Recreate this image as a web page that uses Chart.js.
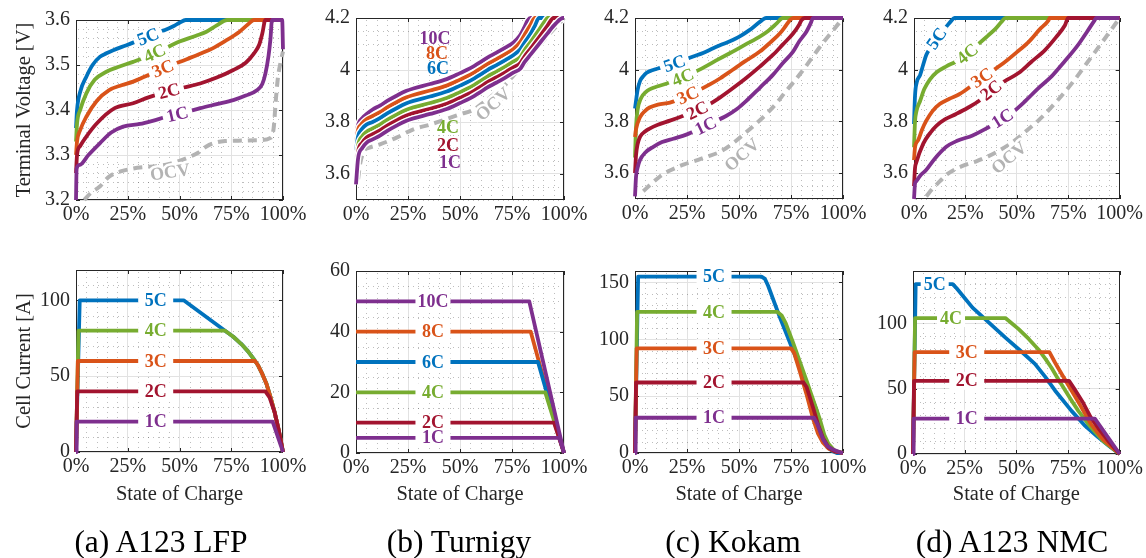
<!DOCTYPE html>
<html><head><meta charset="utf-8">
<script src="https://cdn.jsdelivr.net/npm/chart.js@4.4.0/dist/chart.umd.min.js"></script>
<style>
html,body{margin:0;padding:0;background:#fff;width:1146px;height:558px;overflow:hidden;position:relative}
canvas{position:absolute;left:0;top:0}
.cap{position:absolute;top:526px;font-family:'Liberation Serif','Times New Roman',serif;font-size:31.5px;line-height:31px;color:#000;white-space:nowrap;transform:translateX(-50%)}
</style></head><body>
<canvas id="ta" width="1146" height="558"></canvas>
<canvas id="tb" width="1146" height="558"></canvas>
<canvas id="tc" width="1146" height="558"></canvas>
<canvas id="td" width="1146" height="558"></canvas>
<canvas id="ba" width="1146" height="558"></canvas>
<canvas id="bb" width="1146" height="558"></canvas>
<canvas id="bc" width="1146" height="558"></canvas>
<canvas id="bd" width="1146" height="558"></canvas>
<div class="cap" style="left:161px">(a) A123 LFP</div>
<div class="cap" style="left:459px">(b) Turnigy</div>
<div class="cap" style="left:733px">(c) Kokam</div>
<div class="cap" style="left:1012px">(d) A123 NMC</div>
<script>
// ---------- tick labels ----------
const socTicks = [0, 25, 50, 75, 100];
const lfpVTicks = [3.2, 3.3, 3.4, 3.5, 3.6];
const hiVTicks = [3.6, 3.8, 4, 4.2];
const lfpITicks = [0, 50, 100];
const turITicks = [0, 20, 40, 60];
const kokITicks = [0, 50, 100, 150];
const nmcITicks = [0, 50, 100];

// ---------- A123 LFP : voltage [SOC %, V] ----------
const lfpV5C = [[0,3.36],[0.5,3.40],[2,3.44],[5,3.474],[8,3.50],[11.5,3.518],[14.7,3.526],[18,3.533],[24.4,3.544],[31,3.556],[36,3.565],[40.5,3.574],[43,3.578],[47,3.586],[50,3.594],[53,3.6],[100,3.6]];
const lfpV4C = [[0,3.33],[0.5,3.37],[2,3.40],[5,3.437],[9,3.467],[14.7,3.485],[20,3.495],[27.6,3.507],[35,3.52],[43,3.537],[50,3.552],[58,3.565],[63,3.574],[68,3.588],[73,3.6],[100,3.6]];
const lfpV3C = [[0,3.30],[0.5,3.33],[2,3.355],[5,3.385],[10,3.42],[16,3.444],[22,3.455],[27.6,3.463],[35,3.478],[42,3.492],[53.5,3.513],[60,3.525],[66,3.537],[72,3.553],[79,3.574],[83,3.59],[86,3.6],[100,3.6]];
const lfpV2C = [[0,3.26],[0.5,3.30],[2,3.32],[5,3.341],[10,3.37],[18.7,3.404],[27.6,3.415],[35,3.428],[43.8,3.441],[52,3.45],[60,3.459],[68,3.472],[76,3.489],[82,3.505],[86,3.526],[88.5,3.545],[90,3.57],[91.5,3.6],[100,3.6]];
const lfpV1C = [[0,3.20],[0.3,3.27],[1.8,3.278],[6,3.30],[11.5,3.326],[17,3.35],[22.8,3.363],[30.9,3.369],[37,3.376],[43.8,3.385],[52,3.394],[60,3.404],[68,3.413],[76,3.422],[82,3.432],[87.4,3.444],[90,3.458],[91.5,3.481],[93,3.52],[93.9,3.556],[94.7,3.6],[99.6,3.6],[100,3.535]];
const lfpVOCV = [[4,3.20],[7,3.215],[11.5,3.23],[16,3.252],[22,3.264],[27.6,3.27],[33,3.273],[39,3.275],[45,3.28],[50,3.287],[55,3.296],[59,3.305],[63,3.319],[67,3.327],[72,3.331],[80,3.332],[89,3.333],[94,3.338],[95.5,3.36],[96.5,3.42],[97.5,3.47],[99,3.51],[100,3.53]];

// ---------- Turnigy : voltage ----------
const turV10C = [[0,3.74],[1,3.79],[3,3.815],[5,3.83],[8,3.848],[11.5,3.863],[15,3.881],[19.5,3.901],[24,3.919],[27.6,3.929],[35.6,3.946],[43.6,3.965],[50,3.988],[55,4.007],[59.6,4.029],[63,4.047],[67.6,4.067],[72,4.087],[75.6,4.105],[78.8,4.132],[81,4.165],[82.5,4.19],[84,4.2],[100,4.2]];
const turV8C = [[0,3.72],[1,3.77],[3,3.795],[5,3.81],[8,3.823],[11.5,3.838],[15,3.856],[19.5,3.876],[24,3.894],[27.6,3.904],[35.6,3.921],[43.6,3.94],[50,3.963],[55,3.982],[59.6,4.004],[63,4.022],[67.6,4.042],[72,4.062],[75.6,4.08],[79,4.108],[81,4.135],[84,4.175],[86,4.2],[100,4.2]];
const turV6C = [[0,3.69],[1,3.745],[3,3.775],[5,3.79],[8,3.80],[11.5,3.815],[15,3.833],[19.5,3.853],[24,3.871],[27.6,3.881],[35.6,3.898],[43.6,3.917],[50,3.94],[55,3.959],[59.6,3.981],[63,3.999],[67.6,4.019],[72,4.039],[75.6,4.057],[79,4.08],[81,4.105],[84,4.14],[86,4.17],[88,4.2],[100,4.2]];
const turV4C = [[0,3.64],[1,3.71],[3,3.745],[5,3.762],[8,3.775],[11.5,3.79],[15,3.808],[19.5,3.828],[24,3.846],[27.6,3.856],[35.6,3.873],[43.6,3.892],[50,3.915],[55,3.934],[59.6,3.956],[63,3.974],[67.6,3.994],[72,4.014],[75.6,4.032],[79,4.05],[81,4.076],[84,4.108],[88,4.155],[91,4.19],[92,4.2],[100,4.2]];
const turV2C = [[0,3.60],[1,3.685],[3,3.72],[5,3.74],[8,3.753],[11.5,3.768],[15,3.786],[19.5,3.806],[24,3.824],[27.6,3.834],[35.6,3.851],[43.6,3.87],[50,3.893],[55,3.912],[59.6,3.934],[63,3.952],[67.6,3.972],[72,3.992],[75.6,4.01],[79,4.027],[81,4.052],[84,4.083],[88,4.125],[92,4.17],[95,4.2],[100,4.2]];
const turV1C = [[0,3.56],[1,3.66],[3,3.70],[5,3.72],[8,3.733],[11.5,3.748],[15,3.766],[19.5,3.786],[24,3.804],[27.6,3.814],[35.6,3.831],[43.6,3.85],[50,3.873],[55,3.892],[59.6,3.914],[63,3.932],[67.6,3.952],[72,3.972],[75.6,3.99],[79,4.005],[81,4.03],[84,4.06],[88,4.1],[92,4.14],[96,4.178],[99.5,4.2],[100,4.2]];
const turVOCV = [[1,3.58],[2,3.64],[4,3.69],[6,3.70],[11.5,3.714],[19.5,3.74],[27.6,3.772],[35.6,3.79],[43.6,3.812],[50,3.83],[56,3.845],[59.6,3.865],[63,3.885],[67.6,3.915],[72,3.945],[77,3.99],[80,4.012],[85,4.065],[91.7,4.128],[96,4.165],[100,4.2]];

// ---------- Kokam : voltage ----------
const kokV5C = [[0,3.85],[0.5,3.88],[1.2,3.92],[2.4,3.956],[4,3.975],[5.6,3.988],[9,4.0],[12,4.007],[18.4,4.022],[23,4.036],[28,4.051],[33,4.066],[37.6,4.083],[42,4.098],[47,4.115],[51,4.132],[55,4.153],[58,4.172],[61,4.191],[63,4.2],[100,4.2]];
const kokV4C = [[0,3.66],[0.5,3.78],[1.2,3.842],[3,3.892],[5,3.912],[7,3.924],[11,3.936],[15,3.946],[19,3.958],[23,3.971],[28,3.988],[34,4.013],[40,4.04],[47,4.07],[53,4.097],[60,4.128],[64,4.15],[68,4.178],[71,4.2],[100,4.2]];
const kokV3C = [[0,3.74],[0.5,3.77],[2.4,3.816],[5,3.842],[7,3.854],[11,3.865],[16.8,3.873],[21,3.885],[24.8,3.899],[30,3.918],[36,3.943],[41,3.967],[47,4.0],[53,4.033],[60,4.07],[65,4.105],[69.6,4.14],[72.5,4.17],[74.4,4.191],[76,4.2],[100,4.2]];
const kokV2C = [[0,3.60],[0.5,3.67],[1.2,3.71],[2.4,3.74],[5,3.762],[7,3.772],[11,3.787],[16.8,3.803],[22,3.818],[28,3.835],[34,3.858],[40.8,3.892],[47,3.928],[53.6,3.969],[60,4.012],[66.4,4.058],[71,4.097],[76,4.14],[79,4.175],[80,4.191],[81.6,4.2],[100,4.2]];
const kokV1C = [[0,3.51],[0.5,3.587],[1.2,3.62],[2.4,3.651],[5,3.68],[8.8,3.702],[13,3.72],[18.4,3.733],[25,3.75],[31,3.772],[37,3.795],[44,3.822],[49,3.848],[53.6,3.88],[60,3.93],[66.4,3.981],[71,4.025],[76,4.07],[79,4.11],[82.4,4.147],[84.5,4.18],[85.6,4.2],[100,4.2]];
const kokVOCV = [[4,3.53],[8,3.56],[12,3.587],[16,3.607],[20,3.622],[24,3.635],[28,3.645],[34,3.662],[41,3.683],[47,3.715],[53,3.755],[58,3.79],[63.5,3.831],[68,3.87],[72,3.911],[76,3.95],[80,3.99],[85,4.045],[90,4.1],[95,4.15],[100,4.2]];

// ---------- A123 NMC : voltage ----------
const nmcV5C = [[0,3.79],[0.5,3.90],[1.3,3.95],[3,3.98],[4.5,4.02],[6,4.058],[8.5,4.09],[11,4.121],[13.5,4.148],[15.7,4.166],[18,4.188],[19.7,4.2],[100,4.2]];
const nmcV4C = [[0,3.70],[0.5,3.80],[1.2,3.84],[3,3.88],[5,3.925],[7.7,3.962],[11,3.99],[15.7,4.013],[20,4.03],[24.5,4.051],[28,4.075],[31.7,4.102],[36,4.132],[39.7,4.159],[42.5,4.185],[44.5,4.2],[100,4.2]];
const nmcV3C = [[0,3.65],[0.5,3.70],[2,3.727],[4,3.77],[6,3.803],[9,3.84],[12.5,3.867],[17,3.887],[22,3.905],[27,3.932],[31.7,3.962],[38,3.995],[44.5,4.032],[50,4.068],[55.8,4.108],[61,4.155],[65.4,4.191],[66,4.2],[100,4.2]];
const nmcV2C = [[0,3.55],[0.5,3.62],[1,3.638],[4.5,3.714],[8,3.757],[11,3.784],[15,3.808],[20.5,3.829],[26,3.852],[31.7,3.88],[38,3.924],[44,3.955],[51,3.988],[57,4.03],[63.8,4.077],[69,4.125],[73.4,4.172],[75,4.2],[100,4.2]];
const nmcV1C = [[0,3.50],[0.5,3.56],[1,3.568],[3,3.59],[6,3.613],[10,3.655],[15.7,3.702],[21,3.725],[28.5,3.746],[35,3.772],[41.3,3.803],[48,3.836],[54,3.878],[60,3.925],[67,3.975],[73,4.03],[79.8,4.096],[84,4.145],[87.8,4.191],[88.6,4.2],[100,4.2]];
const nmcVOCV = [[6,3.51],[9,3.54],[12.5,3.568],[16,3.595],[20.5,3.617],[25,3.632],[30,3.645],[36,3.665],[42,3.69],[48,3.72],[55,3.766],[60,3.80],[64,3.831],[68.5,3.87],[72.6,3.907],[78,3.96],[84,4.025],[90,4.09],[95,4.145],[100,4.2]];

// ---------- currents [SOC %, A] ----------
const lfpI5C = [[0,0],[1.8,100],[52,100],[72,80],[76,76],[80,71],[83,66.5],[86,61],[88,57],[90,51.5],[92,45],[94,36],[96,26],[98,14],[100,0]];
const lfpI4C = [[0,0],[1.2,80],[72,80],[76,76],[80,71],[83,66.5],[86,61],[88,57],[90,51.5],[92,45],[94,36],[96,26],[98,14],[100,0]];
const lfpI3C = [[0,0],[0.9,60],[86.5,60],[88,57],[90,51.5],[92,45],[94,36],[96,26],[98,14],[100,0]];
const lfpI2C = [[0,0],[0.6,40],[91.5,40],[93.5,36],[96,26],[98,14],[100,0]];
const lfpI1C = [[0,0],[0.3,20],[95,20],[100,0]];

const turI10C = [[0,50],[83.3,50],[100,0]];
const turI8C = [[0,40],[84,40],[100,0]];
const turI6C = [[0,30],[87.5,30],[100,0]];
const turI4C = [[0,20],[91,20],[100,0]];
const turI2C = [[0,10],[95.2,10],[100,0]];
const turI1C = [[0,5],[97.8,5],[100,0]];

const kokI5C = [[0,0],[1.5,155],[60.8,155],[62.5,153],[64,147],[69.6,119.5],[76,90],[82.4,61],[87.2,38],[90.5,15],[92.5,5],[95,1.5],[97,0],[100,0]];
const kokI4C = [[0,0],[1,124],[68.5,124],[70.5,121],[72.5,114],[76,97],[82.4,64],[88.8,30],[91,16],[93,8],[96,2],[100,0]];
const kokI3C = [[0,0],[0.8,92],[75,92],[76.5,88],[79.2,72],[82.4,52],[85.6,30],[88,17],[90.4,9],[93,4],[96,1.5],[100,0]];
const kokI2C = [[0,0],[0.5,62],[81,62],[82.5,58],[85.6,40],[88,25],[90.4,13],[93,5],[96,1.5],[100,0]];
const kokI1C = [[0,0],[0.3,31],[86,31],[87.5,26],[90.4,12],[92.5,6],[95.2,3],[98,1],[100,0]];

const nmcI5C = [[0,0],[1.3,130],[19.2,130],[21,127],[28.8,112],[44.7,89],[52,79],[59,69],[64,59],[68.7,48.6],[76.7,33],[83,22],[89.5,13],[95,6],[100,0]];
const nmcI4C = [[0,0],[1,104],[44.7,104],[47,101],[51,95.7],[56,88],[60.7,80],[64,73],[67,66],[70,58],[76.7,41],[80,33],[86,20.6],[92,10],[100,0]];
const nmcI3C = [[0,0],[0.8,78],[66,78],[68.7,70],[72,61],[76.7,48.6],[81,37],[86,23],[92,11],[100,0]];
const nmcI2C = [[0,0],[0.5,56],[75.5,56],[78,50],[82,40],[86,28],[90,19],[95,9],[100,0]];
const nmcI1C = [[0,0],[0.3,27],[88,27],[100,0]];

// ---------- styling ----------
const FONT = "'Liberation Serif','Times New Roman',serif";
const TXT = '#262626';
const COL = {b:'#0072BD', o:'#D95319', g:'#77AC30', r:'#A2142F', p:'#7E2F8E', ocv:'#B3B3B3'};
const LBL_FONT = "bold 18px " + FONT;

function interp(d, x) {
  for (let i = 0; i < d.length - 1; i++) {
    const a = d[i], b = d[i + 1];
    if (x >= a[0] && x <= b[0]) { const t = b[0] === a[0] ? 0 : (x - a[0]) / (b[0] - a[0]); return a[1] + t * (b[1] - a[1]); }
  }
  return d[d.length - 1][1];
}

const mAxes = {
  id: 'mAxes',
  beforeDatasetsDraw(chart, args, o) {
    const {ctx, chartArea: ca, scales: {x, y}} = chart;
    ctx.save();
    ctx.strokeStyle = 'rgba(0,0,0,0.26)'; ctx.lineWidth = 1; ctx.setLineDash([1, 4]);
    const isMaj = (arr, v, st) => arr.some(t => Math.abs(t - v) < st * 0.01);
    let n = Math.round(100 / o.xMinor);
    for (let i = 0; i <= n; i++) {
      const v = i * o.xMinor; if (isMaj(socTicks, v, o.xMinor)) continue;
      const px = Math.round(x.getPixelForValue(v)) + 0.5;
      ctx.beginPath(); ctx.moveTo(px, ca.top + 2); ctx.lineTo(px, ca.bottom); ctx.stroke();
    }
    n = Math.round((o.yMax - o.yMin) / o.yMinor);
    for (let i = 0; i <= n; i++) {
      const v = o.yMin + i * o.yMinor; if (isMaj(o.yTicks, v, o.yMinor)) continue;
      const py = Math.round(y.getPixelForValue(v)) + 0.5;
      ctx.beginPath(); ctx.moveTo(ca.left + 2, py); ctx.lineTo(ca.right, py); ctx.stroke();
    }
    ctx.setLineDash([]);
    ctx.strokeStyle = TXT; ctx.lineWidth = 1;
    ctx.strokeRect(Math.round(ca.left) + 0.5, Math.round(ca.top) + 0.5, Math.round(ca.width) - 1, Math.round(ca.height) - 1);
    ctx.beginPath();
    socTicks.forEach(v => { const px = Math.round(x.getPixelForValue(v)) + 0.5;
      ctx.moveTo(px, ca.bottom); ctx.lineTo(px, ca.bottom - 4); ctx.moveTo(px, ca.top); ctx.lineTo(px, ca.top + 4); });
    o.yTicks.forEach(v => { const py = Math.round(y.getPixelForValue(v)) + 0.5;
      ctx.moveTo(ca.left, py); ctx.lineTo(ca.left + 4, py); ctx.moveTo(ca.right, py); ctx.lineTo(ca.right - 4, py); });
    ctx.stroke();
    ctx.restore();
  },
  afterDatasetsDraw(chart, args, o) {
    const {ctx, scales: {x, y}} = chart;
    ctx.save();
    ctx.font = LBL_FONT; ctx.textAlign = 'center'; ctx.textBaseline = 'middle';
    (o.labels || []).forEach(L => {
      const ser = o.series.find(s => s.name === L.s);
      const vy = L.y !== undefined ? L.y : interp(ser.data, L.x);
      const px = x.getPixelForValue(L.x) + (L.dx || 0), py = y.getPixelForValue(vy) + (L.dy || 0);
      let ang = 0;
      if (L.rot !== undefined) ang = L.rot * Math.PI / 180;
      else if (o.along) {
        const x1 = L.x - 2, x2 = L.x + 2;
        const ax = x.getPixelForValue(x1), ay = y.getPixelForValue(interp(ser.data, x1));
        const bx = x.getPixelForValue(x2), by = y.getPixelForValue(interp(ser.data, x2));
        ang = Math.atan2(by - ay, bx - ax);
      }
      ctx.save(); ctx.translate(px, py); ctx.rotate(ang);
      const w = ctx.measureText(L.t).width;
      ctx.fillStyle = '#fff';
      if (o.box) {
        const bw = L.w || 35;
        ctx.fillRect(-bw / 2, -9, bw, 18);
      } else if (o.along || L.halo) {
        ctx.fillRect(-w / 2 - 4, -3.5, w + 8, 7);
        ctx.strokeStyle = '#fff'; ctx.lineWidth = 5; ctx.lineJoin = 'round';
        ctx.strokeText(L.t, 0, 1);
      }
      ctx.fillStyle = ser.color;
      ctx.fillText(L.t, 0, 1);
      ctx.restore();
    });
    ctx.restore();
  }
};
Chart.register(mAxes);

const fmt = v => String(+Number(v).toFixed(2));

function panel(id, P) {
  const ds = [];
  P.series.forEach(s => {
    const base = {data: s.data.map(p => ({x: p[0], y: p[1]})), pointRadius: 0, fill: false, clip: false,
      borderCapStyle: 'butt', borderJoinStyle: 'round', tension: 0};
    if (P.smooth) base.cubicInterpolationMode = 'monotone';
    if (P.halo) ds.push(Object.assign({}, base, {borderColor: '#fff', borderWidth: 6.5}));
    ds.push(Object.assign({}, base, {borderColor: s.color, borderWidth: s.dash ? 4 : 3.8, borderDash: s.dash || []}));
  });
  const n = ds.length; ds.forEach((d, i) => d.order = n - i);
  const tickFont = {family: FONT, size: 20};
  new Chart(document.getElementById(id), {
    type: 'line',
    data: {datasets: ds},
    options: {
      animation: false, responsive: false, devicePixelRatio: 1, events: [],
      layout: {padding: {left: P.l - P.yW, top: P.t, right: 1146 - P.r, bottom: 558 - P.b - P.xH}},
      plugins: {legend: {display: false}, tooltip: {enabled: false},
        mAxes: {xMinor: 5, yMinor: P.yMinor, yMin: P.yMin, yMax: P.yMax, yTicks: P.yTicks,
          labels: P.labels, series: P.series, along: !!P.along, box: !!P.box}},
      scales: {
        x: {type: 'linear', min: 0, max: 100,
          afterBuildTicks: s => { s.ticks = socTicks.map(v => ({value: v})); },
          afterFit: s => { s.height = P.xH; },
          ticks: {callback: v => v + '%', font: tickFont, color: TXT, padding: 3, autoSkip: false, maxRotation: 0},
          grid: {color: '#e2e2e2', drawTicks: false, lineWidth: 1}, border: {display: false},
          title: {display: !!P.xTitle, text: P.xTitle || '', font: {family: FONT, size: 20.5}, color: TXT, padding: {top: 0, bottom: 0}}},
        y: {type: 'linear', min: P.yMin, max: P.yMax,
          afterBuildTicks: s => { s.ticks = P.yTicks.map(v => ({value: v})); },
          afterFit: s => { s.width = P.yW; },
          ticks: {callback: v => fmt(v), font: tickFont, color: TXT, padding: 6, autoSkip: false},
          grid: {color: '#e2e2e2', drawTicks: false, lineWidth: 1}, border: {display: false},
          title: {display: !!P.yTitle, text: P.yTitle || '', font: {family: FONT, size: 20.5}, color: TXT, padding: {top: 12, bottom: 0}}}
      }
    }
  });
}

const OCVDASH = [9, 6];
// ---------- top row ----------
panel('ta', {l: 76, t: 20, r: 283, b: 200, yW: 76, xH: 30, yMin: 3.2, yMax: 3.6, yTicks: lfpVTicks, yMinor: 0.02,
  yTitle: 'Terminal Voltage [V]', smooth: true, along: true,
  series: [
    {name: 'OCV', data: lfpVOCV, color: COL.ocv, dash: OCVDASH},
    {name: '5C', data: lfpV5C, color: COL.b}, {name: '4C', data: lfpV4C, color: COL.g},
    {name: '3C', data: lfpV3C, color: COL.o}, {name: '2C', data: lfpV2C, color: COL.r},
    {name: '1C', data: lfpV1C, color: COL.p}],
  labels: [{t: '5C', s: '5C', x: 34.8}, {t: '4C', s: '4C', x: 38}, {t: '3C', s: '3C', x: 42},
    {t: '2C', s: '2C', x: 45}, {t: '1C', s: '1C', x: 49}, {t: 'OCV', s: 'OCV', x: 45.4, y: 3.262, rot: -8}]});

panel('tb', {l: 356, t: 16, r: 564, b: 200, yW: 40, xH: 30, yMin: 3.5, yMax: 4.2, yTicks: hiVTicks, yMinor: 0.05,
  smooth: true, halo: true,
  series: [
    {name: 'OCV', data: turVOCV, color: COL.ocv, dash: OCVDASH},
    {name: '10C', data: turV10C, color: COL.p}, {name: '8C', data: turV8C, color: COL.o},
    {name: '6C', data: turV6C, color: COL.b}, {name: '4C', data: turV4C, color: COL.g},
    {name: '2C', data: turV2C, color: COL.r}, {name: '1C', data: turV1C, color: COL.p}],
  labels: [{t: '10C', s: '10C', x: 38, y: 4.12}, {t: '8C', s: '8C', x: 39, y: 4.063}, {t: '6C', s: '6C', x: 39.4, y: 4.006},
    {t: '4C', s: '4C', x: 44.2, y: 3.778}, {t: '2C', s: '2C', x: 44.2, y: 3.709}, {t: '1C', s: '1C', x: 45.2, y: 3.645},
    {t: 'OCV', s: 'OCV', x: 65.9, y: 3.869, rot: -42, halo: true}]});

panel('tc', {l: 635, t: 16, r: 843, b: 199, yW: 40, xH: 31, yMin: 3.5, yMax: 4.2, yTicks: hiVTicks, yMinor: 0.05,
  smooth: true, along: true,
  series: [
    {name: 'OCV', data: kokVOCV, color: COL.ocv, dash: OCVDASH},
    {name: '5C', data: kokV5C, color: COL.b}, {name: '4C', data: kokV4C, color: COL.g},
    {name: '3C', data: kokV3C, color: COL.o}, {name: '2C', data: kokV2C, color: COL.r},
    {name: '1C', data: kokV1C, color: COL.p}],
  labels: [{t: '5C', s: '5C', x: 19}, {t: '4C', s: '4C', x: 23}, {t: '3C', s: '3C', x: 25.5},
    {t: '2C', s: '2C', x: 30}, {t: '1C', s: '1C', x: 34}, {t: 'OCV', s: 'OCV', x: 51.4, y: 3.671, rot: -42}]});

panel('td', {l: 914, t: 16, r: 1122, b: 199, yW: 40, xH: 31, yMin: 3.5, yMax: 4.2, yTicks: hiVTicks, yMinor: 0.05,
  smooth: true, along: true,
  series: [
    {name: 'OCV', data: nmcVOCV, color: COL.ocv, dash: OCVDASH},
    {name: '5C', data: nmcV5C, color: COL.b}, {name: '4C', data: nmcV4C, color: COL.g},
    {name: '3C', data: nmcV3C, color: COL.o}, {name: '2C', data: nmcV2C, color: COL.r},
    {name: '1C', data: nmcV1C, color: COL.p}],
  labels: [{t: '5C', s: '5C', x: 11}, {t: '4C', s: '4C', x: 26}, {t: '3C', s: '3C', x: 33},
    {t: '2C', s: '2C', x: 37.5}, {t: '1C', s: '1C', x: 43}, {t: 'OCV', s: 'OCV', x: 46.2, y: 3.66, rot: -40}]});

// ---------- bottom row ----------
panel('ba', {l: 76, t: 270, r: 283, b: 452, yW: 76, xH: 55, yMin: 0, yMax: 120, yTicks: lfpITicks, yMinor: 10,
  yTitle: 'Cell Current [A]', xTitle: 'State of Charge', box: true,
  series: [
    {name: '5C', data: lfpI5C, color: COL.b}, {name: '4C', data: lfpI4C, color: COL.g},
    {name: '3C', data: lfpI3C, color: COL.o}, {name: '2C', data: lfpI2C, color: COL.r},
    {name: '1C', data: lfpI1C, color: COL.p}],
  labels: ['5C', '4C', '3C', '2C', '1C'].map(s => ({t: s, s: s, x: 38.5}))});

panel('bb', {l: 356, t: 271, r: 564, b: 453, yW: 40, xH: 54, yMin: 0, yMax: 60, yTicks: turITicks, yMinor: 5,
  xTitle: 'State of Charge', box: true,
  series: [
    {name: '8C', data: turI8C, color: COL.o}, {name: '6C', data: turI6C, color: COL.b},
    {name: '4C', data: turI4C, color: COL.g}, {name: '2C', data: turI2C, color: COL.r},
    {name: '1C', data: turI1C, color: COL.p}, {name: '10C', data: turI10C, color: COL.p}],
  labels: ['10C', '8C', '6C', '4C', '2C', '1C'].map(s => ({t: s, s: s, x: 37}))});

panel('bc', {l: 635, t: 271, r: 843, b: 453, yW: 40, xH: 54, yMin: 0, yMax: 160, yTicks: kokITicks, yMinor: 10,
  xTitle: 'State of Charge', box: true,
  series: [
    {name: '5C', data: kokI5C, color: COL.b}, {name: '4C', data: kokI4C, color: COL.g},
    {name: '3C', data: kokI3C, color: COL.o}, {name: '2C', data: kokI2C, color: COL.r},
    {name: '1C', data: kokI1C, color: COL.p}],
  labels: ['5C', '4C', '3C', '2C', '1C'].map(s => ({t: s, s: s, x: 38}))});

panel('bd', {l: 913, t: 271, r: 1122, b: 454, yW: 40, xH: 53, yMin: 0, yMax: 140, yTicks: nmcITicks, yMinor: 10,
  xTitle: 'State of Charge', box: true,
  series: [
    {name: '5C', data: nmcI5C, color: COL.b}, {name: '4C', data: nmcI4C, color: COL.g},
    {name: '3C', data: nmcI3C, color: COL.o}, {name: '2C', data: nmcI2C, color: COL.r},
    {name: '1C', data: nmcI1C, color: COL.p}],
  labels: [{t: '5C', s: '5C', x: 10.5, w: 28}, {t: '4C', s: '4C', x: 18.4, w: 28},
    {t: '3C', s: '3C', x: 26}, {t: '2C', s: '2C', x: 26}, {t: '1C', s: '1C', x: 26}]});
</script>
</body></html>
